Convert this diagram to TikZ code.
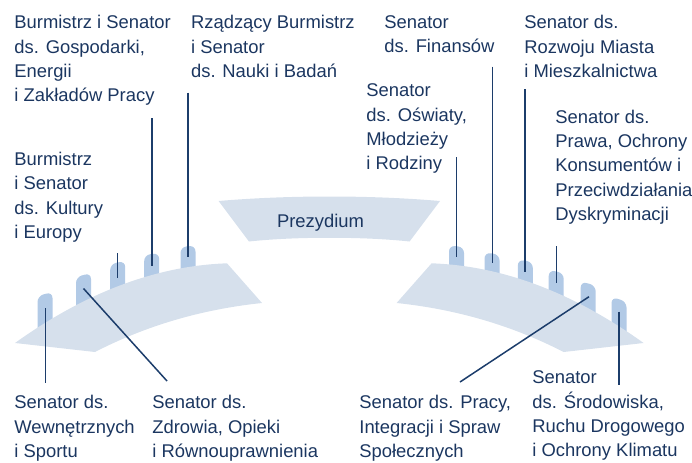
\documentclass[tikz,border=0pt]{standalone}
\usepackage{fontspec}
\setmainfont{Liberation Sans}
\usepackage{xcolor}
\usetikzlibrary{positioning}
\definecolor{navy}{HTML}{1C3D6B}
\definecolor{benchblue}{HTML}{D6E0EC}
\definecolor{chairblue}{HTML}{B2CAE6}
\definecolor{labeltext}{HTML}{1B3660}

\begin{document}
\begin{tikzpicture}[x=0.5pt,y=-0.5pt,
    office/.style={anchor=north west,align=left,inner sep=0pt,text=labeltext,font=\fontsize{9.2}{12.2}\selectfont},
    pointer/.style={draw=navy,line width=0.75pt},
    chair/.style={fill=chairblue,rounded corners=3pt},
    bench/.style={fill=benchblue}]
    \useasboundingbox (0,0) rectangle (692,462);

    % Chairs (behind the benches)
    \foreach \cx/\tl/\tr in {45/296/292, 83.5/277/273, 117.7/264/261, 151.7/255/253, 188/247/245.5} {
        \fill[chair] (\cx-7.5,\tl+40) -- (\cx-7.5,\tl) -- (\cx+7.5,\tr) -- (\cx+7.5,\tl+40) -- cycle;
    }
    \foreach \cx/\tl/\tr in {456.5/245.5/247, 492/252.5/254.5, 525.3/259.5/262, 556.2/270/273, 588.2/281.5/285.5, 619/297/301.5} {
        \fill[chair] (\cx-7.5,\tr+40) -- (\cx-7.5,\tl) -- (\cx+7.5,\tr) -- (\cx+7.5,\tr+40) -- cycle;
    }

    % Benches
    \fill[bench] (15,343) .. controls (85.7,292.3) and (156.3,265.8) .. (227,263.3) -- (262,303)
        .. controls (201.7,309.3) and (146,325.7) .. (95,352) -- cycle;
    \fill[bench] (431.6,263.3) .. controls (502.3,265.8) and (572.9,292.3) .. (643.6,343) -- (563.6,352)
        .. controls (512.6,325.7) and (456.9,309.3) .. (396.6,303) -- cycle;

    % Prezydium
    \fill[bench] (249,241.5) .. controls (295,236.5) and (363.6,236.5) .. (409.6,241.5) -- (440,201)
        .. controls (370,195) and (288.6,195) .. (218.6,201) -- cycle;
    \node[office,anchor=base] (prez) at (320.5,227) {Prezydium};

    % Labels above
    \node[office] (gosp) at (14,15) {Burmistrz i Senator\\ds. Gospodarki,\\Energii\\i Zakładów Pracy};
    \node[office] (rzad) at (190.7,15) {Rządzący Burmistrz\\i Senator\\ds. Nauki i Badań};
    \node[office] (fin) at (384,15) {Senator\\ds. Finansów};
    \node[office] (rozw) at (524,15) {Senator ds.\\Rozwoju Miasta\\i Mieszkalnictwa};
    \node[office] (kult) at (14,151.5) {Burmistrz\\i Senator\\ds. Kultury\\i Europy};
    \node[office] (oswi) at (366,83.4) {Senator\\ds. Oświaty,\\Młodzieży\\i Rodziny};
    \node[office] (praw) at (555,109.4) {Senator ds.\\Prawa, Ochrony\\Konsumentów i\\Przeciwdziałania\\Dyskryminacji};

    % Labels below
    \node[office] (wewn) at (14,394.9) {Senator ds.\\Wewnętrznych\\i Sportu};
    \node[office] (zdro) at (152,394.9) {Senator ds.\\Zdrowia, Opieki\\i Równouprawnienia};
    \node[office] (prac) at (359,394.9) {Senator ds. Pracy,\\Integracji i Spraw\\Społecznych};
    \node[office] (srod) at (532,370.5) {Senator\\ds. Środowiska,\\Ruchu Drogowego\\i Ochrony Klimatu};

    % Pointer ends
    \coordinate (wewn-a) at (45.7,308);   \coordinate (wewn-b) at (45.7,383);
    \coordinate (zdro-a) at (83.5,288.5); \coordinate (zdro-b) at (167,381);
    \coordinate (kult-a) at (117.5,253);  \coordinate (kult-b) at (117.5,277.5);
    \coordinate (gosp-a) at (152,118);    \coordinate (gosp-b) at (152,266);
    \coordinate (rzad-a) at (188,92.7);   \coordinate (rzad-b) at (188,257.3);
    \coordinate (oswi-a) at (456.5,157.3);\coordinate (oswi-b) at (456.5,256.7);
    \coordinate (fin-a) at (492.3,66.7);  \coordinate (fin-b) at (492.3,263.3);
    \coordinate (rozw-a) at (525,89.3);   \coordinate (rozw-b) at (525,272.3);
    \coordinate (praw-a) at (556.7,246);  \coordinate (praw-b) at (556.7,283.3);
    \coordinate (prac-a) at (589,296.7);  \coordinate (prac-b) at (460,382);
    \coordinate (srod-a) at (619,311.7);  \coordinate (srod-b) at (619,385);

    % Pointers
    \foreach \p in {wewn,zdro,kult,gosp,rzad,oswi,fin,rozw,praw,prac,srod} {
        \draw[pointer] (\p-a) -- (\p-b);
    }
\end{tikzpicture}
\end{document}
